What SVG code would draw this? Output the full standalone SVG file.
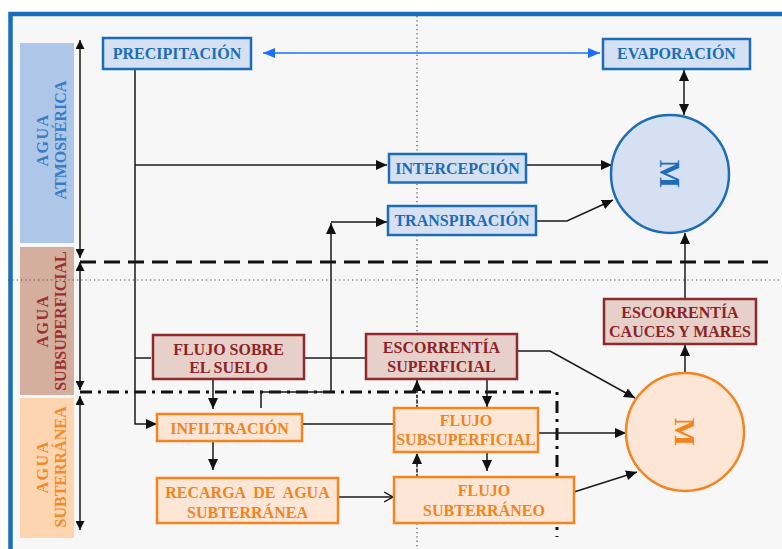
<svg xmlns="http://www.w3.org/2000/svg" width="782" height="549" viewBox="0 0 782 549">
<defs>
<style>
text{font-family:"Liberation Serif","Times New Roman",serif;font-weight:bold;font-size:16px;text-anchor:middle}
text.big{font-size:30px}
.bl rect,.bl circle{fill:#d5e1f3;stroke:#1c6db6;stroke-width:2.5}
.bl text{fill:#1c6db6}
.br rect{fill:#e6d0c9;stroke:#8e2a2c;stroke-width:2.5}
.br text{fill:#8b2327}
.or rect,.or circle{fill:#fde6d5;stroke:#f5841f;stroke-width:2.5}
.or text{fill:#f0841f}
.ln{fill:none;stroke:#1a1a1a;stroke-width:1.5}
.ah{marker-end:url(#arr)}
.dsh{stroke-dasharray:3 2}
.band{stroke:none}
</style>
<marker id="arr" markerUnits="userSpaceOnUse" markerWidth="11" markerHeight="10" refX="11" refY="5" orient="auto-start-reverse"><path d="M0,0 L11,5 L0,10 z" fill="#111"/></marker>
<marker id="arrs" markerUnits="userSpaceOnUse" markerWidth="9" markerHeight="9" refX="9" refY="4.5" orient="auto-start-reverse"><path d="M0,0 L9,4.5 L0,9 z" fill="#111"/></marker>
<marker id="barr" markerUnits="userSpaceOnUse" markerWidth="12" markerHeight="10" refX="12" refY="5" orient="auto-start-reverse"><path d="M0,0 L12,5 L0,10 z" fill="#1a6fff"/></marker>
<marker id="oarr" markerUnits="userSpaceOnUse" markerWidth="10" markerHeight="12" refX="9" refY="6" orient="auto"><path d="M0,1 L9,6 L0,11" fill="none" stroke="#111" stroke-width="1.3"/></marker>
</defs>
<rect x="0" y="0" width="782" height="549" fill="#ffffff"/>
<rect x="10.5" y="14" width="800" height="600" fill="#f7f7f7" stroke="#1a6fba" stroke-width="4.5"/>

<g id="bands">
<rect class="band" x="20" y="43" width="54" height="200" fill="#aec7e8"/>
<rect class="band" x="20" y="247" width="54" height="148" fill="#d4ae9f"/>
<rect class="band" x="20" y="398" width="54" height="140" fill="#fdd5b1"/>
<text transform="translate(48,140) rotate(-90)" fill="#3a7cc4" letter-spacing="1.5">AGUA</text>
<text transform="translate(66,140) rotate(-90)" fill="#3a7cc4">ATMOSFÉRICA</text>
<text transform="translate(48,321) rotate(-90)" fill="#9b3030" letter-spacing="1.5">AGUA</text>
<text transform="translate(66,321) rotate(-90)" fill="#9b3030">SUBSUPERFICIAL</text>
<text transform="translate(48,467) rotate(-90)" fill="#f08a2c" letter-spacing="1.5">AGUA</text>
<text transform="translate(66,467) rotate(-90)" fill="#f08a2c">SUBTERRÁNEA</text>
</g>

<g id="guides" fill="none">
<line x1="8" y1="280" x2="782" y2="280" stroke="#555" stroke-width="1.2" stroke-dasharray="1.3 3"/>
<line x1="417" y1="16" x2="417" y2="549" stroke="#555" stroke-width="1.2" stroke-dasharray="1.3 3"/>
<line x1="80" y1="262" x2="770" y2="262" stroke="#111" stroke-width="3" stroke-dasharray="16 8"/>
<path d="M80,392 L557,392 L557,537" stroke="#111" stroke-width="3" stroke-dasharray="12 6 3 6"/>
</g>

<g id="connectors">
<line class="ln" x1="80" y1="40" x2="80" y2="258" marker-start="url(#arrs)" marker-end="url(#arrs)"/>
<line class="ln" x1="80" y1="262" x2="80" y2="390" marker-start="url(#arrs)" marker-end="url(#arrs)"/>
<line class="ln" x1="80" y1="396" x2="80" y2="530" marker-start="url(#arrs)" marker-end="url(#arrs)"/>
<line x1="263" y1="53" x2="600" y2="53" stroke="#1a6fff" stroke-width="1.5" marker-start="url(#barr)" marker-end="url(#barr)"/>
<line class="ln" x1="684" y1="70" x2="684" y2="115" marker-start="url(#arr)" marker-end="url(#arr)"/>
<path class="ln" d="M135,69 L135,424 L157,424" marker-end="url(#arr)"/>
<path class="ln ah" d="M135,165 L387,165"/>
<path class="ln" d="M135,358 L151,358"/>
<path class="ln ah" d="M527,165 L612,165"/>
<path class="ln ah" d="M536,221 L567,221 L613,200"/>
<path class="ln" d="M261,408 L261,392 L331,392 L331,223" marker-end="url(#arr)"/>
<path class="ln ah" d="M331,222 L387,222"/>
<path class="ln" d="M304,358 L366,358"/>
<path class="ln ah" d="M213,379 L213,409"/>
<path class="ln ah" d="M517,351 L550,351 L635,398"/>
<path class="ln ah" d="M685,373 L685,345"/>
<path class="ln ah" d="M685,299 L685,233"/>
<path class="ln" d="M302,424 L394,424"/>
<path class="ln ah" d="M487,379 L487,407"/>
<path class="ln ah dsh" d="M417,408 L417,380"/>
<path class="ln ah" d="M538,433 L626,433"/>
<path class="ln ah" d="M487,452 L487,471"/>
<path class="ln ah dsh" d="M417,477 L417,453"/>
<path class="ln ah" d="M574,492 L637,472"/>
<path class="ln ah" d="M213,441 L213,470"/>
<path class="ln" d="M338,497 L393,497" marker-end="url(#oarr)"/>
</g>

<g id="precipitacion" class="bl"><rect x="103" y="38" width="148" height="31"/><text x="177" y="59">PRECIPITACIÓN</text></g>
<g id="evaporacion" class="bl"><rect x="603" y="39" width="147" height="30"/><text x="676.5" y="59">EVAPORACIÓN</text></g>
<g id="intercepcion" class="bl"><rect x="389" y="154" width="137" height="28.5"/><text x="457.5" y="173.5">INTERCEPCIÓN</text></g>
<g id="transpiracion" class="bl"><rect x="388" y="206" width="148" height="29"/><text x="462" y="226">TRANSPIRACIÓN</text></g>
<g id="m-atmosferica" class="bl"><circle cx="670" cy="174" r="59"/><text class="big" transform="translate(670,174) rotate(90)" y="10">M</text></g>

<g id="flujo-sobre-suelo" class="br"><rect x="153" y="335" width="151" height="44"/><text x="228.5" y="355">FLUJO SOBRE</text><text x="228.5" y="373">EL SUELO</text></g>
<g id="escorrentia-superficial" class="br"><rect x="366" y="334" width="151" height="45"/><text x="441.5" y="353">ESCORRENTÍA</text><text x="441.5" y="372">SUPERFICIAL</text></g>
<g id="escorrentia-cauces" class="br"><rect x="604" y="299" width="152" height="45"/><text x="680" y="318">ESCORRENTÍA</text><text x="680" y="337">CAUCES Y MARES</text></g>

<g id="infiltracion" class="or"><rect x="157" y="414" width="145" height="27"/><text x="229.5" y="434">INFILTRACIÓN</text></g>
<g id="flujo-subsuperficial" class="or"><rect x="394" y="408" width="144" height="44"/><text x="466" y="426">FLUJO</text><text x="466" y="445">SUBSUPERFICIAL</text></g>
<g id="recarga" class="or"><rect x="157" y="478" width="181" height="45"/><text x="247.5" y="498" word-spacing="4">RECARGA DE AGUA</text><text x="247.5" y="518">SUBTERRÁNEA</text></g>
<g id="flujo-subterraneo" class="or"><rect x="394" y="477" width="180" height="46"/><text x="484" y="496">FLUJO</text><text x="484" y="516">SUBTERRÁNEO</text></g>
<g id="m-subterranea" class="or"><circle cx="685" cy="432" r="59"/><text class="big" transform="translate(685,432) rotate(90)" y="10">M</text></g>
</svg>
